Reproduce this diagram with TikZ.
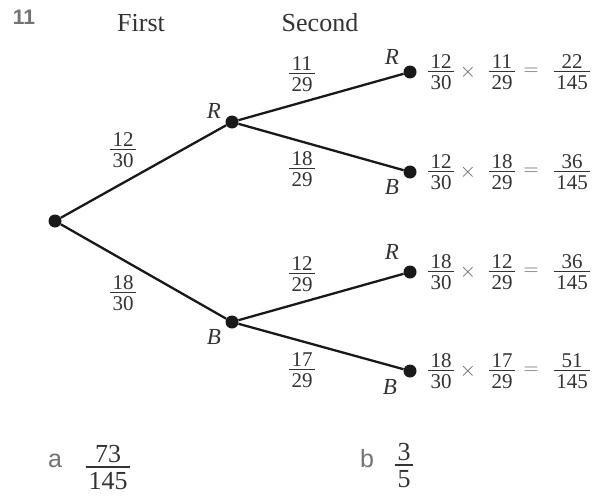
\documentclass[tikz,border=0pt]{standalone}
\usepackage{fontspec}
\setmainfont{Liberation Serif}
\newfontfamily\sansnum{Liberation Sans}
\newcommand\tfr[2]{\vbox{\offinterlineskip\halign{\kern0.1em\hfil##\hfil\kern0.1em\cr
  \vrule height0.69em width0pt #1\cr
  \noalign{\kern0.12em\hrule height0.065em\kern0.14em}
  \vrule height0.69em width0pt #2\cr}}}
\begin{document}
\begin{tikzpicture}[x=1pt,y=-1pt,
  dot/.style={circle,fill=black!90,inner sep=0pt,minimum size=13pt},
  branch/.style={line width=2.3pt,draw=black!90},
  head/.style={font=\fontsize{26}{30}\selectfont,text=black!80,inner sep=0pt,anchor=base},
  outc/.style={font=\fontsize{23}{27}\selectfont\itshape,text=black!80,inner sep=0pt},
  pr/.style={font=\fontsize{21}{25}\selectfont,text=black!80,inner sep=0pt},
  op/.style={font=\fontsize{21}{25}\selectfont,text=black!60,inner sep=0pt},
  ans/.style={font=\fontsize{26}{30}\selectfont,text=black!80,inner sep=0pt},
  qlab/.style={font=\fontsize{25}{30}\selectfont\sansnum,text=black!55,inner sep=0pt},
]
\fill[white] (0,0) rectangle (604,495);
\useasboundingbox (0,0) rectangle (604,495);

% headings
\node[qlab,font=\fontsize{21}{25}\selectfont\sansnum\bfseries] (qn) at (24,17) {11};
\node[head] (first) at (141,32) {First};
\node[head] (second) at (320,32) {Second};

% tree nodes
\node[dot] (root) at (55,221) {};
\node[dot] (R) at (232,122) {};
\node[dot] (B) at (232,322) {};
\node[dot] (RR) at (410,72) {};
\node[dot] (RB) at (410,172) {};
\node[dot] (BR) at (410,272) {};
\node[dot] (BB) at (410,371) {};

% branches
\draw[branch] (root) -- (R);
\draw[branch] (root) -- (B);
\draw[branch] (R) -- (RR);
\draw[branch] (R) -- (RB);
\draw[branch] (B) -- (BR);
\draw[branch] (B) -- (BB);

% outcome letters
\node[outc] (lR) at (214,111) {R};
\node[outc] (lB) at (214,337) {B};
\node[outc] (lRR) at (392,57) {R};
\node[outc] (lRB) at (392,187) {B};
\node[outc] (lBR) at (392,252) {R};
\node[outc] (lBB) at (390,387) {B};

% branch probabilities
\node[pr] (p1) at (123,150) {\tfr{12}{30}};
\node[pr] (p2) at (123,293) {\tfr{18}{30}};
\node[pr] (p3) at (302,74) {\tfr{11}{29}};
\node[pr] (p4) at (302,169) {\tfr{18}{29}};
\node[pr] (p5) at (302,274) {\tfr{12}{29}};
\node[pr] (p6) at (302,370) {\tfr{17}{29}};

% products
\foreach \i/\y/\fa/\fb/\fc/\fd in {1/72/12/30/11/22, 2/172/12/30/18/36, 3/272/18/30/12/36, 4/371/18/30/17/51}{
  \node[pr] (pa\i) at (441,\y) {\tfr{\fa}{\fb}};
  \node[op] (px\i) at (468,\y) {$\times$};
  \node[pr] (pb\i) at (502,\y) {\tfr{\fc}{29}};
  \node[op] (pe\i) at (531,\y) {$=$};
  \node[pr] (pc\i) at (572,\y) {\tfr{\fd}{145}};
}

% answers
\node[qlab] (qa) at (55,461) {a};
\node[ans] (aa) at (108,467) {\tfr{73}{145}};
\node[qlab] (qb) at (367,459) {b};
\node[ans] (ab) at (404,465) {\tfr{3}{5}};
\end{tikzpicture}
\end{document}
